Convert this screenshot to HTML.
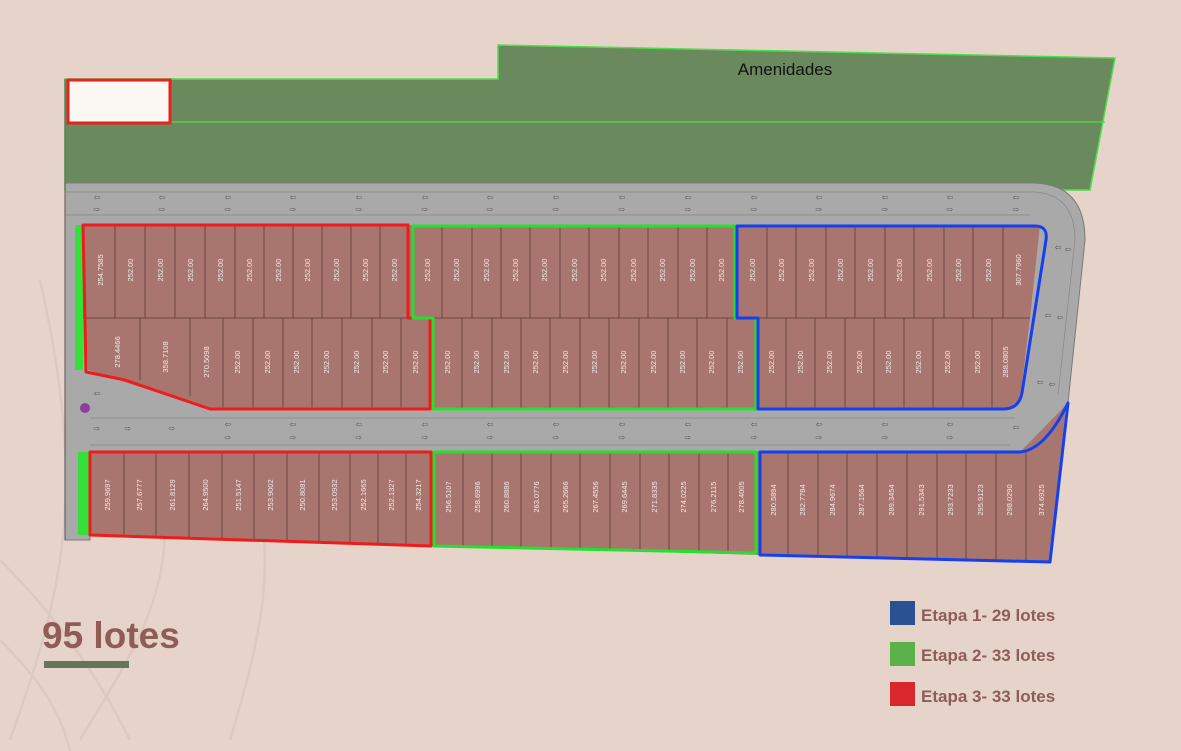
<!DOCTYPE html>
<html><head><meta charset="utf-8"><style>
html,body{margin:0;padding:0;width:1181px;height:751px;overflow:hidden;background:#e6d4cb}
svg{display:block}
.l{fill:#f3e9e6;font-family:"Liberation Sans",sans-serif;font-size:7.5px;text-anchor:middle}
.d{stroke:#5c3a36;stroke-width:0.8}
.a{fill:#555;font-family:"DejaVu Sans",sans-serif;font-size:8px;text-anchor:middle}
.lg{font-family:"Liberation Sans",sans-serif;font-weight:bold;font-size:17px;fill:#8e5d56}
</style></head><body>
<svg width="1181" height="751" viewBox="0 0 1181 751" xmlns="http://www.w3.org/2000/svg">
<g fill="none" stroke="#dcc9bf" stroke-width="2.5">
<path d="M10 740 C60 600 90 500 40 280"/>
<path d="M80 740 C140 640 200 560 140 420"/>
<path d="M230 740 C260 640 280 560 250 470"/>
<path d="M0 560 C60 620 100 680 130 740"/>
<path d="M0 640 C40 680 60 710 70 751"/>
</g>
<polygon points="65,79 498,79 498,45 1115,58 1090,190 65,190" fill="#6a8a5d" stroke="#4ee04a" stroke-width="1.5"/>
<line x1="170" y1="122" x2="1105" y2="122" stroke="#4ee04a" stroke-width="1.2"/>
<rect x="68" y="80" width="102" height="43" fill="#fbf8f4" stroke="#e8211f" stroke-width="3"/>
<text x="785" y="75" font-family="Liberation Sans,sans-serif" font-size="17" text-anchor="middle" fill="#111">Amenidades</text>
<path d="M65 183 L1035 183 Q1085 185 1085 240 L1068 403 Q1045 450 1020 452 L90 452 L90 540 L65 540 Z" fill="#a9a9a9" stroke="#7a7a7a" stroke-width="1"/>
<path d="M65 192 L1035 192 Q1075 195 1075 240 L1058 395" fill="none" stroke="#888" stroke-width="0.7"/>
<path d="M65 215 L1030 215" fill="none" stroke="#888" stroke-width="0.7"/>
<path d="M90 418 L1015 418" fill="none" stroke="#888" stroke-width="0.7"/>
<path d="M90 445 L1010 445" fill="none" stroke="#888" stroke-width="0.7"/>
<rect x="75" y="225" width="8" height="145" fill="#35e03a"/>
<rect x="78" y="452" width="11" height="83" fill="#35e03a"/>
<circle cx="85" cy="408" r="5" fill="#8b3f9a"/>
<g class="a">
<text x="97" y="200">⇦</text><text x="97" y="212">⇨</text>
<text x="162" y="200">⇦</text><text x="162" y="212">⇨</text>
<text x="228" y="200">⇦</text><text x="228" y="212">⇨</text>
<text x="293" y="200">⇦</text><text x="293" y="212">⇨</text>
<text x="359" y="200">⇦</text><text x="359" y="212">⇨</text>
<text x="425" y="200">⇦</text><text x="425" y="212">⇨</text>
<text x="490" y="200">⇦</text><text x="490" y="212">⇨</text>
<text x="556" y="200">⇦</text><text x="556" y="212">⇨</text>
<text x="622" y="200">⇦</text><text x="622" y="212">⇨</text>
<text x="688" y="200">⇦</text><text x="688" y="212">⇨</text>
<text x="754" y="200">⇦</text><text x="754" y="212">⇨</text>
<text x="819" y="200">⇦</text><text x="819" y="212">⇨</text>
<text x="885" y="200">⇦</text><text x="885" y="212">⇨</text>
<text x="950" y="200">⇦</text><text x="950" y="212">⇨</text>
<text x="1016" y="200">⇦</text><text x="1016" y="212">⇨</text>
<text x="97" y="396">⇦</text><text x="97" y="431">⇨</text>
<text x="128" y="431">⇨</text><text x="172" y="431">⇨</text>
<text x="228" y="427">⇦</text><text x="228" y="440">⇨</text>
<text x="293" y="427">⇦</text><text x="293" y="440">⇨</text>
<text x="359" y="427">⇦</text><text x="359" y="440">⇨</text>
<text x="425" y="427">⇦</text><text x="425" y="440">⇨</text>
<text x="490" y="427">⇦</text><text x="490" y="440">⇨</text>
<text x="556" y="427">⇦</text><text x="556" y="440">⇨</text>
<text x="622" y="427">⇦</text><text x="622" y="440">⇨</text>
<text x="688" y="427">⇦</text><text x="688" y="440">⇨</text>
<text x="754" y="427">⇦</text><text x="754" y="440">⇨</text>
<text x="819" y="427">⇦</text><text x="819" y="440">⇨</text>
<text x="885" y="427">⇦</text><text x="885" y="440">⇨</text>
<text x="950" y="427">⇦</text><text x="950" y="440">⇨</text>
<text x="1016" y="430">⇦</text>
<text x="1058" y="250">⇦</text><text x="1068" y="252">⇦</text>
<text x="1048" y="318">⇦</text><text x="1060" y="320">⇦</text>
<text x="1040" y="385">⇦</text><text x="1052" y="387">⇦</text>
</g>
<g fill="#a9756f">
<polygon points="83,225 1040,225 1030,318 83,318"/>
<polygon points="85,318 1030,318 1020,400 1005,410 210,410 88,370"/>
<polygon points="90,452 1020,452 1066,405 1050,562 760,555 432,545 90,535"/>
</g>
<g class="d">
<line x1="83" y1="318" x2="1030" y2="318"/>
<line x1="115" y1="225" x2="115" y2="318"/><line x1="145" y1="225" x2="145" y2="318"/><line x1="175" y1="225" x2="175" y2="318"/><line x1="205" y1="225" x2="205" y2="318"/><line x1="235" y1="225" x2="235" y2="318"/><line x1="264" y1="225" x2="264" y2="318"/><line x1="293" y1="225" x2="293" y2="318"/><line x1="322" y1="225" x2="322" y2="318"/><line x1="351" y1="225" x2="351" y2="318"/><line x1="380" y1="225" x2="380" y2="318"/>
<line x1="442" y1="225" x2="442" y2="318"/><line x1="472" y1="225" x2="472" y2="318"/><line x1="501" y1="225" x2="501" y2="318"/><line x1="530" y1="225" x2="530" y2="318"/><line x1="560" y1="225" x2="560" y2="318"/><line x1="589" y1="225" x2="589" y2="318"/><line x1="619" y1="225" x2="619" y2="318"/><line x1="648" y1="225" x2="648" y2="318"/><line x1="678" y1="225" x2="678" y2="318"/><line x1="707" y1="225" x2="707" y2="318"/>
<line x1="767" y1="225" x2="767" y2="318"/><line x1="796" y1="225" x2="796" y2="318"/><line x1="826" y1="225" x2="826" y2="318"/><line x1="855" y1="225" x2="855" y2="318"/><line x1="885" y1="225" x2="885" y2="318"/><line x1="914" y1="225" x2="914" y2="318"/><line x1="944" y1="225" x2="944" y2="318"/><line x1="973" y1="225" x2="973" y2="318"/><line x1="1003" y1="225" x2="1003" y2="318"/>
<line x1="140" y1="318" x2="140" y2="380"/><line x1="190" y1="318" x2="190" y2="396"/><line x1="223" y1="318" x2="223" y2="410"/><line x1="253" y1="318" x2="253" y2="410"/><line x1="283" y1="318" x2="283" y2="410"/><line x1="312" y1="318" x2="312" y2="410"/><line x1="342" y1="318" x2="342" y2="410"/><line x1="372" y1="318" x2="372" y2="410"/><line x1="401" y1="318" x2="401" y2="410"/>
<line x1="462" y1="318" x2="462" y2="410"/><line x1="492" y1="318" x2="492" y2="410"/><line x1="521" y1="318" x2="521" y2="410"/><line x1="550" y1="318" x2="550" y2="410"/><line x1="580" y1="318" x2="580" y2="410"/><line x1="609" y1="318" x2="609" y2="410"/><line x1="639" y1="318" x2="639" y2="410"/><line x1="668" y1="318" x2="668" y2="410"/><line x1="697" y1="318" x2="697" y2="410"/><line x1="727" y1="318" x2="727" y2="410"/>
<line x1="786" y1="318" x2="786" y2="410"/><line x1="815" y1="318" x2="815" y2="410"/><line x1="845" y1="318" x2="845" y2="410"/><line x1="874" y1="318" x2="874" y2="410"/><line x1="904" y1="318" x2="904" y2="410"/><line x1="933" y1="318" x2="933" y2="410"/><line x1="963" y1="318" x2="963" y2="410"/><line x1="992" y1="318" x2="992" y2="410"/>
<line x1="124" y1="452" x2="124" y2="536"/><line x1="156" y1="452" x2="156" y2="537"/><line x1="189" y1="452" x2="189" y2="538"/><line x1="222" y1="452" x2="222" y2="539"/><line x1="254" y1="452" x2="254" y2="540"/><line x1="287" y1="452" x2="287" y2="541"/><line x1="319" y1="452" x2="319" y2="542"/><line x1="350" y1="452" x2="350" y2="543"/><line x1="378" y1="452" x2="378" y2="543"/><line x1="406" y1="452" x2="406" y2="544"/>
<line x1="463" y1="452" x2="463" y2="546"/><line x1="492" y1="452" x2="492" y2="547"/><line x1="521" y1="452" x2="521" y2="547"/><line x1="551" y1="452" x2="551" y2="548"/><line x1="580" y1="452" x2="580" y2="549"/><line x1="610" y1="452" x2="610" y2="550"/><line x1="640" y1="452" x2="640" y2="550"/><line x1="669" y1="452" x2="669" y2="551"/><line x1="699" y1="452" x2="699" y2="552"/><line x1="728" y1="452" x2="728" y2="552"/>
<line x1="788" y1="452" x2="788" y2="556"/><line x1="818" y1="452" x2="818" y2="557"/><line x1="847" y1="452" x2="847" y2="558"/><line x1="877" y1="452" x2="877" y2="558"/><line x1="907" y1="452" x2="907" y2="559"/><line x1="937" y1="452" x2="937" y2="560"/><line x1="966" y1="452" x2="966" y2="560"/><line x1="996" y1="452" x2="996" y2="561"/><line x1="1026" y1="452" x2="1026" y2="561"/>
</g>
<g class="l">
<text transform="translate(103,270) rotate(-90)">254.7585</text>
<text transform="translate(133,270) rotate(-90)">252.00</text><text transform="translate(163,270) rotate(-90)">252.00</text><text transform="translate(193,270) rotate(-90)">252.00</text><text transform="translate(223,270) rotate(-90)">252.00</text><text transform="translate(252,270) rotate(-90)">252.00</text><text transform="translate(281,270) rotate(-90)">252.00</text><text transform="translate(310,270) rotate(-90)">252.00</text><text transform="translate(339,270) rotate(-90)">252.00</text><text transform="translate(368,270) rotate(-90)">252.00</text><text transform="translate(397,270) rotate(-90)">252.00</text>
<text transform="translate(430,270) rotate(-90)">252.00</text><text transform="translate(459,270) rotate(-90)">252.00</text><text transform="translate(489,270) rotate(-90)">252.00</text><text transform="translate(518,270) rotate(-90)">252.00</text><text transform="translate(547,270) rotate(-90)">252.00</text><text transform="translate(577,270) rotate(-90)">252.00</text><text transform="translate(606,270) rotate(-90)">252.00</text><text transform="translate(636,270) rotate(-90)">252.00</text><text transform="translate(665,270) rotate(-90)">252.00</text><text transform="translate(695,270) rotate(-90)">252.00</text><text transform="translate(724,270) rotate(-90)">252.00</text>
<text transform="translate(755,270) rotate(-90)">252.00</text><text transform="translate(784,270) rotate(-90)">252.00</text><text transform="translate(814,270) rotate(-90)">252.00</text><text transform="translate(843,270) rotate(-90)">252.00</text><text transform="translate(873,270) rotate(-90)">252.00</text><text transform="translate(902,270) rotate(-90)">252.00</text><text transform="translate(932,270) rotate(-90)">252.00</text><text transform="translate(961,270) rotate(-90)">252.00</text><text transform="translate(991,270) rotate(-90)">252.00</text><text transform="translate(1021,270) rotate(-90)">307.7960</text>
<text transform="translate(120,352) rotate(-90)">278.4466</text><text transform="translate(168,357) rotate(-90)">358.7108</text><text transform="translate(209,362) rotate(-90)">270.5098</text><text transform="translate(240,362) rotate(-90)">252.00</text><text transform="translate(270,362) rotate(-90)">252.00</text><text transform="translate(299,362) rotate(-90)">252.00</text><text transform="translate(329,362) rotate(-90)">252.00</text><text transform="translate(359,362) rotate(-90)">252.00</text><text transform="translate(388,362) rotate(-90)">252.00</text><text transform="translate(418,362) rotate(-90)">252.00</text>
<text transform="translate(450,362) rotate(-90)">252.00</text><text transform="translate(479,362) rotate(-90)">252.00</text><text transform="translate(509,362) rotate(-90)">252.00</text><text transform="translate(538,362) rotate(-90)">252.00</text><text transform="translate(568,362) rotate(-90)">252.00</text><text transform="translate(597,362) rotate(-90)">252.00</text><text transform="translate(626,362) rotate(-90)">252.00</text><text transform="translate(656,362) rotate(-90)">252.00</text><text transform="translate(685,362) rotate(-90)">252.00</text><text transform="translate(714,362) rotate(-90)">252.00</text><text transform="translate(743,362) rotate(-90)">252.00</text>
<text transform="translate(774,362) rotate(-90)">252.00</text><text transform="translate(803,362) rotate(-90)">252.00</text><text transform="translate(832,362) rotate(-90)">252.00</text><text transform="translate(862,362) rotate(-90)">252.00</text><text transform="translate(891,362) rotate(-90)">252.00</text><text transform="translate(921,362) rotate(-90)">252.00</text><text transform="translate(950,362) rotate(-90)">252.00</text><text transform="translate(980,362) rotate(-90)">252.00</text><text transform="translate(1008,362) rotate(-90)">288.0805</text>
<text transform="translate(110,495) rotate(-90)">259.9697</text><text transform="translate(142,495) rotate(-90)">257.6777</text><text transform="translate(175,495) rotate(-90)">261.8129</text><text transform="translate(208,495) rotate(-90)">264.9500</text><text transform="translate(241,495) rotate(-90)">251.5147</text><text transform="translate(273,495) rotate(-90)">253.9002</text><text transform="translate(305,495) rotate(-90)">250.8081</text><text transform="translate(337,495) rotate(-90)">253.0932</text><text transform="translate(366,495) rotate(-90)">252.1665</text><text transform="translate(394,495) rotate(-90)">252.1327</text><text transform="translate(421,495) rotate(-90)">254.3217</text>
<text transform="translate(451,497) rotate(-90)">256.5107</text><text transform="translate(480,497) rotate(-90)">258.6996</text><text transform="translate(509,497) rotate(-90)">260.8886</text><text transform="translate(539,497) rotate(-90)">263.0776</text><text transform="translate(568,497) rotate(-90)">265.2666</text><text transform="translate(598,497) rotate(-90)">267.4556</text><text transform="translate(627,497) rotate(-90)">269.6445</text><text transform="translate(657,497) rotate(-90)">271.8335</text><text transform="translate(686,497) rotate(-90)">274.0225</text><text transform="translate(716,497) rotate(-90)">276.2115</text><text transform="translate(744,497) rotate(-90)">278.4005</text>
<text transform="translate(776,500) rotate(-90)">280.5894</text><text transform="translate(805,500) rotate(-90)">282.7784</text><text transform="translate(835,500) rotate(-90)">284.9674</text><text transform="translate(864,500) rotate(-90)">287.1564</text><text transform="translate(894,500) rotate(-90)">289.3454</text><text transform="translate(924,500) rotate(-90)">291.5343</text><text transform="translate(953,500) rotate(-90)">293.7233</text><text transform="translate(983,500) rotate(-90)">295.9123</text><text transform="translate(1012,500) rotate(-90)">298.0290</text><text transform="translate(1044,500) rotate(-90)">374.6925</text>
</g>
<g fill="none" stroke-width="3" stroke-linejoin="round">
<polygon points="83,225 408,225 408,318 430,318 430,409 210,409 125,380 86,372" stroke="#ee1c1c"/>
<polygon points="413,226 735,226 735,318 756,318 756,409 433,409 433,318 413,318" stroke="#25e02c"/>
<path d="M737 226 L1035 226 Q1048 226 1046 240 L1022 393 Q1019 409 1003 409 L758 409 L758 318 L737 318 Z" stroke="#1440ee"/>
<polygon points="90,452 431,452 431,546 90,535" stroke="#ee1c1c"/>
<polygon points="434,452 756,452 756,553 434,546" stroke="#25e02c"/>
<path d="M760 452 L1020 452 Q1045 450 1068 403 L1050 562 L760 555 Z" stroke="#1440ee"/>
</g>
<line x1="65" y1="79" x2="65" y2="540" stroke="#555" stroke-width="1"/>
<text x="42" y="648" font-family="Liberation Sans,sans-serif" font-weight="bold" font-size="37" fill="#8e5d56">95 lotes</text>
<rect x="44" y="661" width="85" height="7" fill="#65755c"/>
<rect x="890" y="601" width="25" height="24" fill="#2a5293"/>
<rect x="890" y="642" width="25" height="24" fill="#5db14a"/>
<rect x="890" y="682" width="25" height="24" fill="#d9282d"/>
<text class="lg" x="921" y="621">Etapa 1- 29 lotes</text>
<text class="lg" x="921" y="661">Etapa 2- 33 lotes</text>
<text class="lg" x="921" y="702">Etapa 3- 33 lotes</text>
</svg>
</body></html>
